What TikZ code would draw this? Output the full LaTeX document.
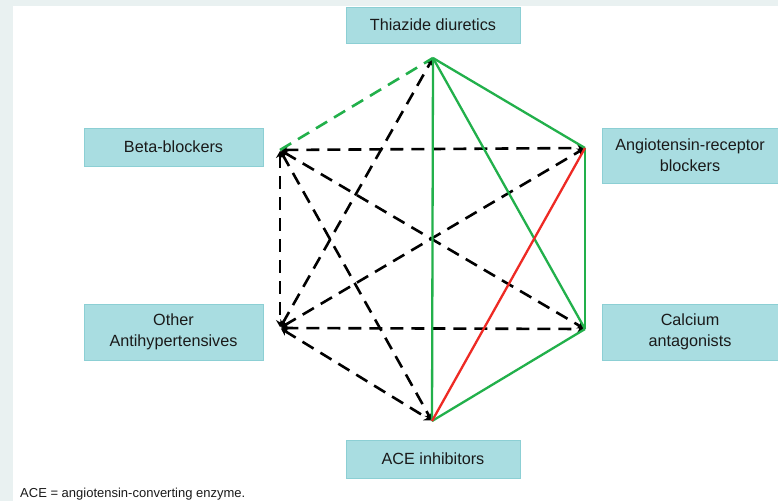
\documentclass[tikz,border=0pt]{standalone}
\usepackage{fontspec}
\setmainfont{Liberation Sans}
\usetikzlibrary{arrows.meta}
\definecolor{framegray}{HTML}{E9F1F1}
\definecolor{boxfill}{HTML}{A9DDE1}
\definecolor{boxline}{HTML}{8CCFD4}
\definecolor{linkgreen}{HTML}{22B04B}
\definecolor{linkred}{HTML}{EE2A24}
\definecolor{labeltext}{HTML}{1A1A1A}
\tikzset{
  drugbox/.style={draw=boxline, line width=1pt, fill=boxfill, text=labeltext,
    align=center, inner sep=0pt, font=\fontsize{16.2}{21}\selectfont},
  goodlink/.style={draw=linkgreen, line width=2.3pt},
  badlink/.style={draw=linkred, line width=2.3pt},
  maybelink/.style={draw=linkgreen, line width=2.6pt, dash pattern=on 13pt off 8pt},
  otherlink/.style={draw=black, line width=2.6pt, dash pattern=on 13pt off 8pt,
    {Stealth[length=7pt,width=8pt]}-{Stealth[length=7pt,width=8pt]}, shorten <=1pt, shorten >=1pt}
}
\begin{document}
\begin{tikzpicture}[x=1pt,y=-1pt]
  % Background
  \fill[framegray] (0,0) rectangle (778,501);
  \fill[white] (13,6) rectangle (778,501);
  \useasboundingbox (0,0) rectangle (778,501);

  % Corners of the hexagon
  \coordinate (thz) at (433,58);
  \coordinate (arb) at (585,148);
  \coordinate (cca) at (585,329);
  \coordinate (ace) at (432,421);
  \coordinate (oth) at (280,328);
  \coordinate (bet) at (280,150);

  % Boxes
  \node[drugbox, minimum width=174pt, minimum height=36pt] (thzbox) at (433,25) {Thiazide diuretics};
  \node[drugbox, minimum width=179pt, minimum height=38pt] (betbox) at (173.5,147) {Beta-blockers};
  \node[drugbox, minimum width=176pt, minimum height=55pt] (arbbox) at (690,155.5) {Angiotensin-receptor\\blockers};
  \node[drugbox, minimum width=179pt, minimum height=56pt] (othbox) at (173.5,332) {Other\\Antihypertensives};
  \node[drugbox, minimum width=176pt, minimum height=56pt] (ccabox) at (690,332) {Calcium\\antagonists};
  \node[drugbox, minimum width=174pt, minimum height=38pt] (acebox) at (433,459) {ACE inhibitors};

  % Links
  \draw[otherlink] (bet) -- (arb);
  \draw[otherlink] (bet) -- (cca);
  \draw[otherlink] (bet) -- (oth);
  \draw[otherlink] (bet) -- (ace);
  \draw[otherlink] (oth) -- (cca);
  \draw[otherlink] (oth) -- (thz);
  \draw[otherlink] (oth) -- (arb);
  \draw[otherlink] (oth) -- (ace);
  \draw[maybelink] (bet) -- (thz);
  \draw[goodlink] (thz) -- (arb);
  \draw[goodlink] (thz) -- (cca);
  \draw[goodlink] (thz) -- (ace);
  \draw[goodlink] (arb) -- (cca);
  \draw[goodlink] (cca) -- (ace);
  \draw[badlink] (ace) -- (arb);

  % Note
  \node[anchor=base west, inner sep=0pt, text=labeltext, font=\fontsize{13}{15}\selectfont] (note) at (20,497) {ACE = angiotensin-converting enzyme.};
\end{tikzpicture}
\end{document}
